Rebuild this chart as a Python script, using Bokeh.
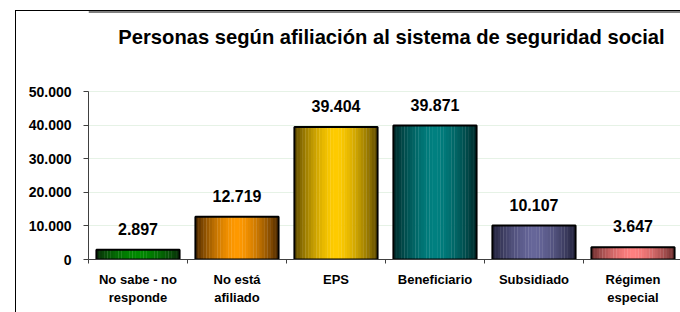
import numpy as np
from bokeh.plotting import figure
from bokeh.models import Range1d, FixedTicker, Label, Span
from bokeh.embed import file_html
from bokeh.resources import INLINE
from bokeh.core.properties import value

# ---- data ----
categories = ["No sabe - no\nresponde", "No está\nafiliado", "EPS", "Beneficiario", "Subsidiado", "Régimen\nespecial"]
values = [2897, 12719, 39404, 39871, 10107, 3647]
value_labels = ["2.897", "12.719", "39.404", "39.871", "10.107", "3.647"]
y_ticks = [0, 10000, 20000, 30000, 40000, 50000]
y_tick_labels = ["0", "10.000", "20.000", "30.000", "40.000", "50.000"]
title_text = "Personas según afiliación al sistema de seguridad social"

# ---- styles ----
center_colors = ["#008a00", "#ff9900", "#ffcc00", "#008080", "#666699", "#ff8080"]
edge_colors = ["#0a2e0a", "#4f2a00", "#5e4a00", "#002a2a", "#23233d", "#6e3030"]
FONT = "Liberation Sans"
BW = 0.84
NSTRIP = 30
Y_AXIS_MAX = 50000
Y_VIEW_MAX = Y_AXIS_MAX * 248 / 168   # extra room above the axis for the title

def hex2rgb(h):
    h = h.lstrip("#")
    return np.array([int(h[i:i + 2], 16) for i in (0, 2, 4)], dtype=float)

def rgb2hex(c):
    c = np.clip(np.round(c), 0, 255).astype(int)
    return "#%02x%02x%02x" % tuple(c)

n = len(categories)
xc = np.arange(n) + 0.5

p = figure(width=664, height=301, output_backend="svg", toolbar_location=None,
           x_range=Range1d(0, 5.98), y_range=Range1d(0, Y_VIEW_MAX),
           min_border_left=72, min_border_right=0, min_border_top=0, min_border_bottom=53)
p.styles = {"margin-left": "16px", "margin-top": "11px", "outline": "1px solid black"}
p.outline_line_color = None
p.background_fill_color = "white"
p.border_fill_color = "white"

# top edge of the chart frame
p.add_layout(Span(location=Y_VIEW_MAX, dimension="width", line_color="black", line_width=2))

# title (screen units, relative to the plot frame)
p.add_layout(Label(x=303, y=223, x_units="screen", y_units="screen", text=title_text,
                   text_align="center", text_baseline="alphabetic",
                   text_font=FONT, text_font_size="20.2px", text_font_style="bold",
                   text_color="black"))

# gradient strips
sx, stop, sw, scol = [], [], [], []
for i in range(n):
    c0 = hex2rgb(center_colors[i])
    c1 = hex2rgb(edge_colors[i])
    for j in range(NSTRIP):
        u = (j + 0.5) / NSTRIP
        f = abs(2 * u - 1) ** 1.6
        sx.append(xc[i] - BW / 2 + u * BW)
        stop.append(values[i])
        sw.append(BW / NSTRIP * 1.1)
        scol.append(rgb2hex(c0 * (1 - f) + c1 * f))
p.vbar(x=sx, top=stop, bottom=0, width=sw, fill_color=scol, line_color=None)
p.vbar(x=xc, top=values, bottom=0, width=BW, fill_color=None, line_color="black", line_width=2)

p.text(x=xc, y=values, text=value_labels, text_align="center", text_baseline="alphabetic",
       y_offset=-21, text_font=value(FONT), text_font_size="16px", text_font_style="bold",
       text_color="black")

# axes
p.xgrid.visible = False
p.ygrid.grid_line_color = "#e6f2e6"
p.ygrid.grid_line_width = 1

p.yaxis.ticker = FixedTicker(ticks=y_ticks, minor_ticks=[])
p.yaxis.bounds = (0, Y_AXIS_MAX)
p.yaxis.major_label_overrides = {t: l for t, l in zip(y_ticks, y_tick_labels)}
p.yaxis.major_label_text_font = FONT
p.yaxis.major_label_text_font_size = "14px"
p.yaxis.major_label_text_font_style = "bold"
p.yaxis.major_label_text_color = "black"
p.yaxis.major_tick_out = 5
p.yaxis.major_tick_in = 0
p.yaxis.major_label_standoff = 12
p.yaxis.axis_line_color = "#404040"
p.yaxis.major_tick_line_color = "#404040"

p.xaxis.ticker = FixedTicker(ticks=list(xc), minor_ticks=list(range(n + 1)))
p.xaxis.major_label_overrides = {float(x): c for x, c in zip(xc, categories)}
p.xaxis.major_label_text_font = FONT
p.xaxis.major_label_text_font_size = "13px"
p.xaxis.major_label_text_font_style = "bold"
p.xaxis.major_label_text_color = "black"
p.xaxis.major_label_text_line_height = 1.25
p.xaxis.major_tick_out = 0
p.xaxis.major_tick_in = 0
p.xaxis.minor_tick_out = 4
p.xaxis.minor_tick_in = 0
p.xaxis.minor_tick_line_color = "#404040"
p.xaxis.major_label_standoff = 8
p.xaxis.axis_line_color = "#404040"

open("out.html", "w").write(file_html(p, INLINE))
